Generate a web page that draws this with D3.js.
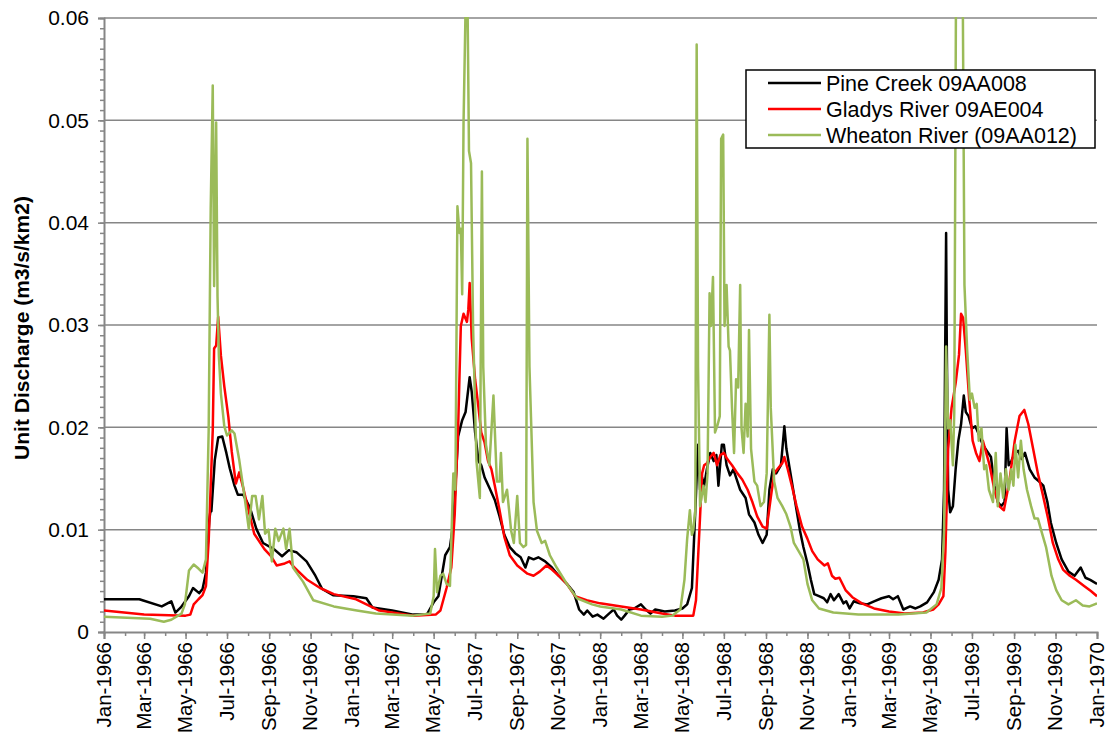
<!DOCTYPE html>
<html>
<head>
<meta charset="utf-8">
<script src="https://cdn.jsdelivr.net/npm/d3@7"></script>
<style>
  body { margin: 0; background: #fff; }
  svg text { font-family: "Liberation Sans", Arial, sans-serif; fill: #000; }
</style>
</head>
<body>
<svg id="chart" width="1106" height="739"></svg>
<script>
// series names (legend order)
const seriesNames = ["Pine Creek 09AA008", "Gladys River 09AE004", "Wheaton River (09AA012)"];
const seriesColors = ["#000000", "#ff0000", "#9bbb59"];
const yTicks = [0, 0.01, 0.02, 0.03, 0.04, 0.05, 0.06];

// Pine Creek 09AA008
const pineCreek = [
  ["1966-01-01",0.0032],["1966-02-22",0.0032],["1966-03-27",0.0025],["1966-04-10",0.0030],
  ["1966-04-16",0.0019],["1966-04-24",0.0024],["1966-05-06",0.0035],["1966-05-12",0.0043],
  ["1966-05-21",0.0038],["1966-05-26",0.0042],["1966-05-31",0.0058],["1966-06-05",0.0110],
  ["1966-06-07",0.0120],["1966-06-08",0.0118],["1966-06-13",0.0168],["1966-06-18",0.0190],["1966-06-24",0.0191],
  ["1966-06-30",0.0175],["1966-07-05",0.0160],["1966-07-12",0.0143],["1966-07-17",0.0134],
  ["1966-07-25",0.0134],["1966-08-04",0.0121],["1966-08-13",0.0101],["1966-08-23",0.0087],
  ["1966-09-08",0.0081],["1966-09-20",0.0074],["1966-09-30",0.0080],["1966-10-11",0.0078],
  ["1966-10-26",0.0069],["1966-11-08",0.0055],["1966-11-18",0.0042],["1966-12-04",0.0036],
  ["1967-01-03",0.0035],["1967-01-22",0.0033],["1967-01-31",0.0024],["1967-03-01",0.0021],
  ["1967-04-01",0.0017],["1967-04-21",0.0017],["1967-05-01",0.0029],["1967-05-08",0.0035],
  ["1967-05-13",0.0055],["1967-05-18",0.0075],["1967-05-25",0.0083],["1967-05-30",0.0107],
  ["1967-06-06",0.0191],["1967-06-12",0.0207],["1967-06-17",0.0215],["1967-06-23",0.0249],
  ["1967-06-26",0.0235],["1967-07-01",0.0195],["1967-07-06",0.0167],["1967-07-10",0.0163],
  ["1967-07-15",0.0151],["1967-07-22",0.0141],["1967-07-30",0.0129],["1967-08-06",0.0113],
  ["1967-08-13",0.0095],["1967-08-21",0.0083],["1967-08-29",0.0077],["1967-09-06",0.0073],
  ["1967-09-13",0.0063],["1967-09-18",0.0073],["1967-09-25",0.0071],["1967-10-02",0.0073],
  ["1967-10-12",0.0069],["1967-10-22",0.0063],["1967-11-01",0.0055],["1967-11-13",0.0047],
  ["1967-11-23",0.0039],["1967-12-01",0.0022],["1967-12-08",0.0017],["1967-12-13",0.0021],
  ["1967-12-21",0.0015],["1967-12-28",0.0017],["1968-01-06",0.0013],["1968-01-14",0.0018],
  ["1968-01-21",0.0022],["1968-01-26",0.0016],["1968-02-01",0.0012],["1968-02-06",0.0016],
  ["1968-02-13",0.0022],["1968-02-20",0.0023],["1968-03-01",0.0027],["1968-03-08",0.0022],
  ["1968-03-15",0.0018],["1968-03-22",0.0022],["1968-04-05",0.0020],["1968-04-20",0.0021],
  ["1968-05-01",0.0023],["1968-05-08",0.0027],["1968-05-15",0.0043],["1968-05-20",0.0119],
  ["1968-05-24",0.0183],["1968-05-27",0.0139],["1968-05-30",0.0151],["1968-06-02",0.0143],
  ["1968-06-06",0.0159],["1968-06-11",0.0175],["1968-06-16",0.0167],["1968-06-20",0.0173],
  ["1968-06-23",0.0143],["1968-06-28",0.0183],["1968-07-01",0.0183],["1968-07-05",0.0163],
  ["1968-07-10",0.0153],["1968-07-15",0.0159],["1968-07-20",0.0149],["1968-07-25",0.0139],
  ["1968-08-02",0.0131],["1968-08-07",0.0115],["1968-08-15",0.0107],["1968-08-21",0.0095],
  ["1968-08-27",0.0087],["1968-09-02",0.0095],["1968-09-06",0.0139],["1968-09-11",0.0159],
  ["1968-09-16",0.0155],["1968-09-23",0.0163],["1968-09-28",0.0201],["1968-10-01",0.0179],
  ["1968-10-06",0.0159],["1968-10-11",0.0139],["1968-10-16",0.0119],["1968-10-21",0.0099],
  ["1968-10-26",0.0083],["1968-11-01",0.0067],["1968-11-06",0.0051],["1968-11-11",0.0037],
  ["1968-11-18",0.0035],["1968-11-25",0.0033],["1968-11-30",0.0029],["1968-12-05",0.0037],
  ["1968-12-10",0.0031],["1968-12-17",0.0037],["1968-12-24",0.0028],["1968-12-28",0.0030],
  ["1969-01-02",0.0023],["1969-01-08",0.0030],["1969-01-17",0.0028],["1969-01-28",0.0027],
  ["1969-02-07",0.0030],["1969-02-18",0.0033],["1969-03-01",0.0035],["1969-03-07",0.0032],
  ["1969-03-14",0.0035],["1969-03-22",0.0022],["1969-04-01",0.0025],["1969-04-09",0.0023],
  ["1969-04-16",0.0025],["1969-04-26",0.0029],["1969-05-06",0.0039],["1969-05-13",0.0051],
  ["1969-05-18",0.0071],["1969-05-21",0.0139],["1969-05-24",0.0390],["1969-05-25",0.0279],
  ["1969-05-27",0.0139],["1969-05-30",0.0117],["1969-06-03",0.0123],["1969-06-07",0.0159],
  ["1969-06-11",0.0187],["1969-06-15",0.0203],["1969-06-19",0.0231],["1969-06-22",0.0215],
  ["1969-06-26",0.0211],["1969-07-01",0.0199],["1969-07-06",0.0201],["1969-07-10",0.0195],
  ["1969-07-17",0.0183],["1969-07-23",0.0177],["1969-07-29",0.0171],["1969-08-03",0.0143],
  ["1969-08-08",0.0127],["1969-08-13",0.0123],["1969-08-18",0.0127],["1969-08-21",0.0199],
  ["1969-08-24",0.0163],["1969-08-28",0.0167],["1969-09-02",0.0175],["1969-09-07",0.0177],
  ["1969-09-12",0.0169],["1969-09-17",0.0175],["1969-09-24",0.0159],["1969-10-01",0.0151],
  ["1969-10-08",0.0147],["1969-10-14",0.0143],["1969-10-20",0.0127],["1969-10-25",0.0107],
  ["1969-11-02",0.0087],["1969-11-10",0.0071],["1969-11-20",0.0059],["1969-11-29",0.0055],
  ["1969-12-08",0.0063],["1969-12-15",0.0053],["1969-12-22",0.0051],["1970-01-01",0.0047]
];

// Gladys River 09AE004
const gladysRiver = [
  ["1966-01-01",0.0021],["1966-03-01",0.0017],["1966-05-01",0.0016],["1966-05-08",0.0017],
  ["1966-05-13",0.0027],["1966-05-20",0.0032],["1966-05-26",0.0036],["1966-05-31",0.0045],
  ["1966-06-04",0.0089],["1966-06-10",0.0197],["1966-06-12",0.0277],["1966-06-15",0.0280],
  ["1966-06-18",0.0308],["1966-06-22",0.0270],["1966-06-27",0.0240],["1966-07-03",0.0210],
  ["1966-07-08",0.0176],["1966-07-14",0.0145],["1966-07-19",0.0156],["1966-07-24",0.0143],
  ["1966-08-02",0.0118],["1966-08-10",0.0096],["1966-08-25",0.0081],["1966-09-04",0.0074],
  ["1966-09-12",0.0065],["1966-09-24",0.0067],["1966-10-01",0.0069],["1966-10-08",0.0063],
  ["1966-10-27",0.0051],["1966-11-15",0.0043],["1966-12-05",0.0037],["1967-01-07",0.0032],
  ["1967-02-10",0.0021],["1967-04-01",0.0016],["1967-05-04",0.0017],["1967-05-11",0.0021],
  ["1967-05-20",0.0043],["1967-05-27",0.0063],["1967-06-01",0.0115],["1967-06-06",0.0199],
  ["1967-06-10",0.0299],["1967-06-14",0.0311],["1967-06-19",0.0303],["1967-06-21",0.0315],
  ["1967-06-23",0.0341],["1967-06-26",0.0287],["1967-07-01",0.0247],["1967-07-06",0.0219],
  ["1967-07-10",0.0195],["1967-07-15",0.0185],["1967-07-20",0.0167],["1967-07-25",0.0159],
  ["1967-07-30",0.0143],["1967-08-06",0.0119],["1967-08-13",0.0093],["1967-08-21",0.0075],
  ["1967-09-01",0.0065],["1967-09-16",0.0057],["1967-09-25",0.0055],["1967-10-04",0.0059],
  ["1967-10-14",0.0065],["1967-10-22",0.0061],["1967-11-01",0.0055],["1967-11-13",0.0047],
  ["1967-11-25",0.0035],["1967-12-12",0.0031],["1968-01-01",0.0028],["1968-02-01",0.0025],
  ["1968-03-01",0.0022],["1968-04-01",0.0018],["1968-04-20",0.0016],["1968-05-17",0.0016],
  ["1968-05-21",0.0031],["1968-05-26",0.0099],["1968-05-30",0.0155],["1968-06-02",0.0163],
  ["1968-06-06",0.0165],["1968-06-11",0.0171],["1968-06-16",0.0175],["1968-06-21",0.0163],
  ["1968-06-26",0.0173],["1968-07-01",0.0175],["1968-07-06",0.0169],["1968-07-13",0.0163],
  ["1968-07-21",0.0155],["1968-07-28",0.0149],["1968-08-05",0.0139],["1968-08-12",0.0127],
  ["1968-08-19",0.0113],["1968-08-27",0.0103],["1968-09-02",0.0101],["1968-09-08",0.0131],
  ["1968-09-13",0.0155],["1968-09-20",0.0161],["1968-09-25",0.0165],["1968-09-28",0.0171],
  ["1968-10-03",0.0159],["1968-10-09",0.0143],["1968-10-16",0.0123],["1968-10-24",0.0103],
  ["1968-11-01",0.0091],["1968-11-08",0.0079],["1968-11-16",0.0071],["1968-11-26",0.0065],
  ["1968-12-01",0.0067],["1968-12-07",0.0055],["1968-12-12",0.0052],["1968-12-18",0.0053],
  ["1968-12-27",0.0041],["1969-01-06",0.0034],["1969-01-20",0.0028],["1969-02-07",0.0023],
  ["1969-03-01",0.0020],["1969-03-24",0.0018],["1969-04-20",0.0019],["1969-05-05",0.0022],
  ["1969-05-13",0.0027],["1969-05-20",0.0035],["1969-05-23",0.0079],["1969-05-27",0.0179],
  ["1969-06-01",0.0219],["1969-06-07",0.0243],["1969-06-12",0.0271],["1969-06-15",0.0311],
  ["1969-06-18",0.0307],["1969-06-22",0.0275],["1969-06-27",0.0227],["1969-07-02",0.0187],
  ["1969-07-07",0.0175],["1969-07-12",0.0167],["1969-07-17",0.0187],["1969-07-22",0.0175],
  ["1969-07-27",0.0163],["1969-08-03",0.0139],["1969-08-10",0.0123],["1969-08-17",0.0119],
  ["1969-08-25",0.0147],["1969-09-02",0.0187],["1969-09-09",0.0211],["1969-09-16",0.0217],
  ["1969-09-22",0.0203],["1969-09-29",0.0179],["1969-10-06",0.0155],["1969-10-13",0.0135],
  ["1969-10-21",0.0111],["1969-10-28",0.0087],["1969-11-05",0.0071],["1969-11-12",0.0061],
  ["1969-11-22",0.0055],["1969-12-01",0.0051],["1969-12-13",0.0045],["1969-12-23",0.0040],
  ["1970-01-01",0.0035]
];

// Wheaton River (09AA012)
const wheatonRiver = [
  ["1966-01-01",0.0015],["1966-03-10",0.0013],["1966-03-30",0.0010],["1966-04-10",0.0012],
  ["1966-04-25",0.0018],["1966-04-30",0.0027],["1966-05-06",0.0060],["1966-05-13",0.0066],
  ["1966-05-20",0.0062],["1966-05-26",0.0058],["1966-05-31",0.0071],["1966-06-04",0.0197],
  ["1966-06-07",0.0414],["1966-06-10",0.0534],["1966-06-12",0.0338],["1966-06-15",0.0498],
  ["1966-06-17",0.0328],["1966-06-19",0.0270],["1966-06-22",0.0233],["1966-06-27",0.0201],
  ["1966-07-01",0.0192],["1966-07-08",0.0197],["1966-07-12",0.0194],["1966-07-19",0.0168],
  ["1966-07-26",0.0136],["1966-08-02",0.0101],["1966-08-07",0.0133],["1966-08-12",0.0133],
  ["1966-08-17",0.0110],["1966-08-22",0.0133],["1966-08-26",0.0096],["1966-08-31",0.0100],
  ["1966-09-05",0.0069],["1966-09-10",0.0101],["1966-09-15",0.0089],["1966-09-22",0.0101],
  ["1966-09-26",0.0081],["1966-10-01",0.0101],["1966-10-06",0.0063],["1966-10-21",0.0049],
  ["1966-11-05",0.0031],["1966-12-05",0.0025],["1967-01-08",0.0021],["1967-02-05",0.0018],
  ["1967-04-01",0.0016],["1967-04-26",0.0018],["1967-05-01",0.0035],["1967-05-03",0.0081],
  ["1967-05-06",0.0039],["1967-05-11",0.0055],["1967-05-15",0.0057],["1967-05-20",0.0047],
  ["1967-05-25",0.0045],["1967-05-30",0.0155],["1967-06-02",0.0139],["1967-06-05",0.0416],
  ["1967-06-08",0.0390],["1967-06-10",0.0394],["1967-06-12",0.0330],["1967-06-14",0.0498],
  ["1967-06-17",0.0610],["1967-06-20",0.0605],["1967-06-22",0.0470],["1967-06-25",0.0458],
  ["1967-06-28",0.0299],["1967-07-03",0.0167],["1967-07-08",0.0131],["1967-07-11",0.0450],
  ["1967-07-13",0.0259],["1967-07-17",0.0183],["1967-07-22",0.0163],["1967-07-28",0.0231],
  ["1967-08-02",0.0147],["1967-08-06",0.0147],["1967-08-08",0.0175],["1967-08-11",0.0127],
  ["1967-08-17",0.0139],["1967-08-23",0.0099],["1967-08-27",0.0087],["1967-09-01",0.0133],
  ["1967-09-05",0.0087],["1967-09-10",0.0083],["1967-09-14",0.0085],["1967-09-16",0.0482],
  ["1967-09-19",0.0259],["1967-09-25",0.0127],["1967-09-30",0.0099],["1967-10-07",0.0087],
  ["1967-10-12",0.0089],["1967-10-19",0.0075],["1967-10-29",0.0063],["1967-11-13",0.0047],
  ["1967-11-28",0.0033],["1967-12-20",0.0027],["1968-01-01",0.0025],["1968-02-01",0.0022],
  ["1968-03-01",0.0016],["1968-04-01",0.0015],["1968-04-16",0.0016],["1968-04-28",0.0022],
  ["1968-05-04",0.0051],["1968-05-08",0.0091],["1968-05-12",0.0119],["1968-05-15",0.0095],
  ["1968-05-17",0.0099],["1968-05-20",0.0119],["1968-05-22",0.0574],["1968-05-24",0.0259],
  ["1968-05-27",0.0123],["1968-06-01",0.0143],["1968-06-04",0.0127],["1968-06-07",0.0155],
  ["1968-06-10",0.0331],["1968-06-12",0.0299],["1968-06-15",0.0347],["1968-06-18",0.0195],
  ["1968-06-22",0.0203],["1968-06-25",0.0211],["1968-06-27",0.0482],["1968-06-30",0.0486],
  ["1968-07-02",0.0299],["1968-07-05",0.0339],["1968-07-08",0.0279],["1968-07-10",0.0275],
  ["1968-07-13",0.0219],["1968-07-16",0.0175],["1968-07-19",0.0247],["1968-07-22",0.0239],
  ["1968-07-25",0.0339],["1968-07-27",0.0199],["1968-07-30",0.0175],["1968-08-02",0.0223],
  ["1968-08-05",0.0191],["1968-08-07",0.0295],["1968-08-10",0.0179],["1968-08-15",0.0147],
  ["1968-08-19",0.0143],["1968-08-24",0.0123],["1968-08-29",0.0127],["1968-09-02",0.0155],
  ["1968-09-06",0.0310],["1968-09-08",0.0219],["1968-09-13",0.0147],["1968-09-18",0.0131],
  ["1968-09-25",0.0123],["1968-10-01",0.0115],["1968-10-07",0.0103],["1968-10-12",0.0087],
  ["1968-10-19",0.0079],["1968-10-26",0.0071],["1968-11-01",0.0047],["1968-11-08",0.0031],
  ["1968-11-18",0.0023],["1968-12-09",0.0019],["1969-01-15",0.0017],["1969-03-15",0.0017],
  ["1969-04-25",0.0019],["1969-05-10",0.0027],["1969-05-17",0.0043],["1969-05-21",0.0099],
  ["1969-05-24",0.0279],["1969-05-27",0.0199],["1969-05-30",0.0207],["1969-06-03",0.0163],
  ["1969-06-05",0.0215],["1969-06-08",0.0700],["1969-06-12",0.0750],["1969-06-17",0.0680],
  ["1969-06-20",0.0339],["1969-06-24",0.0275],["1969-06-28",0.0227],["1969-07-01",0.0233],
  ["1969-07-05",0.0219],["1969-07-08",0.0223],["1969-07-11",0.0187],["1969-07-15",0.0199],
  ["1969-07-19",0.0159],["1969-07-22",0.0163],["1969-07-26",0.0139],["1969-08-01",0.0127],
  ["1969-08-05",0.0175],["1969-08-08",0.0123],["1969-08-12",0.0155],["1969-08-16",0.0131],
  ["1969-08-20",0.0159],["1969-08-24",0.0139],["1969-08-28",0.0159],["1969-08-31",0.0143],
  ["1969-09-03",0.0183],["1969-09-07",0.0151],["1969-09-11",0.0187],["1969-09-15",0.0159],
  ["1969-09-20",0.0139],["1969-09-26",0.0123],["1969-10-01",0.0111],["1969-10-06",0.0111],
  ["1969-10-11",0.0099],["1969-10-18",0.0083],["1969-10-26",0.0055],["1969-11-02",0.0041],
  ["1969-11-10",0.0031],["1969-11-20",0.0027],["1969-12-01",0.0031],["1969-12-11",0.0026],
  ["1969-12-21",0.0025],["1970-01-01",0.0028]
];

const parseDate = d3.timeParse("%Y-%m-%d");
const allSeries = [pineCreek, gladysRiver, wheatonRiver].map((arr, i) => ({
    name: seriesNames[i],
    color: seriesColors[i],
    values: arr.map(d => ({date: parseDate(d[0]), value: d[1]}))
}));

const svg = d3.select('#chart');
const margin = {left: 104, right: 9, top: 18, bottom: 107};
const width = 1106 - margin.left - margin.right;
const height = 739 - margin.top - margin.bottom;
const gray = '#868686';

const xScale = d3.scaleTime()
    .domain([parseDate("1966-01-01"), parseDate("1970-01-01")])
    .range([0, width]);
const yScale = d3.scaleLinear()
    .domain([0, 0.06])
    .range([height, 0]);

const g = svg.append('g').attr('transform', `translate(${margin.left},${margin.top})`);

// grid lines
g.append('g')
    .selectAll('line')
    .data(yTicks.filter(d => d > 0))
    .join('line')
    .attr('x1', 0).attr('x2', width)
    .attr('y1', d => yScale(d)).attr('y2', d => yScale(d))
    .attr('stroke', gray).attr('stroke-width', 1.5);

// minor y ticks
const yMinor = g.append('g')
    .call(d3.axisLeft(yScale).tickValues(d3.range(0, 61).map(i => i / 1000)).tickSize(4).tickFormat(''));
yMinor.select('.domain').remove();
yMinor.selectAll('line').attr('stroke', gray).attr('stroke-width', 1.5);

// major y axis
const yAxis = g.append('g')
    .call(d3.axisLeft(yScale).tickValues(yTicks).tickSize(6).tickPadding(9)
        .tickFormat(d => d === 0 ? '0' : d3.format('.2f')(d)));
yAxis.select('.domain').attr('stroke', gray).attr('stroke-width', 2);
yAxis.selectAll('line').attr('stroke', gray).attr('stroke-width', 1.5);
yAxis.selectAll('text').style('font-size', '21px');

// minor x ticks (monthly)
const xMinor = g.append('g')
    .attr('transform', `translate(0,${height})`)
    .call(d3.axisBottom(xScale).ticks(d3.timeMonth.every(1)).tickSize(4).tickFormat(''));
xMinor.select('.domain').remove();
xMinor.selectAll('line').attr('stroke', gray).attr('stroke-width', 1.5);

// major x axis
const xAxis = g.append('g')
    .attr('transform', `translate(0,${height})`)
    .call(d3.axisBottom(xScale).ticks(d3.timeMonth.every(2)).tickSize(7)
        .tickFormat(d3.timeFormat('%b-%Y')));
xAxis.select('.domain').attr('stroke', gray).attr('stroke-width', 2);
xAxis.selectAll('line').attr('stroke', gray).attr('stroke-width', 1.5);
xAxis.selectAll('text')
    .style('font-size', '20.5px')
    .attr('text-anchor', 'end')
    .attr('dy', '0.3em')
    .attr('transform', 'rotate(-90)')
    .attr('x', -10).attr('y', 0);

// y axis title
svg.append('text')
    .attr('transform', `translate(29,${margin.top + height / 2 + 3}) rotate(-90)`)
    .attr('text-anchor', 'middle')
    .style('font-size', '21px')
    .style('font-weight', 'bold')
    .text('Unit Discharge (m3/s/km2)');

// lines
svg.append('clipPath').attr('id', 'plotClip')
    .append('rect').attr('width', width).attr('height', height + 2).attr('y', -1);

const line = d3.line()
    .x(d => xScale(d.date))
    .y(d => yScale(d.value));

g.append('g').attr('clip-path', 'url(#plotClip)')
    .selectAll('path')
    .data(allSeries)
    .join('path')
    .attr('d', d => line(d.values))
    .attr('fill', 'none')
    .attr('stroke', d => d.color)
    .attr('stroke-width', 2.5)
    .attr('stroke-linejoin', 'round');

// legend
const legend = svg.append('g').attr('transform', 'translate(746,70)');
legend.append('rect')
    .attr('width', 349).attr('height', 78)
    .attr('fill', '#fff').attr('stroke', '#000').attr('stroke-width', 1.5);
const item = legend.selectAll('.item')
    .data(allSeries)
    .join('g')
    .attr('class', 'item')
    .attr('transform', (d, i) => `translate(0,${13 + i * 26})`);
item.append('line')
    .attr('x1', 22).attr('x2', 75)
    .attr('stroke', d => d.color).attr('stroke-width', 2.5);
item.append('text')
    .attr('x', 80).attr('dy', '0.35em')
    .style('font-size', '21.5px')
    .text(d => d.name);
</script>
</body>
</html>
